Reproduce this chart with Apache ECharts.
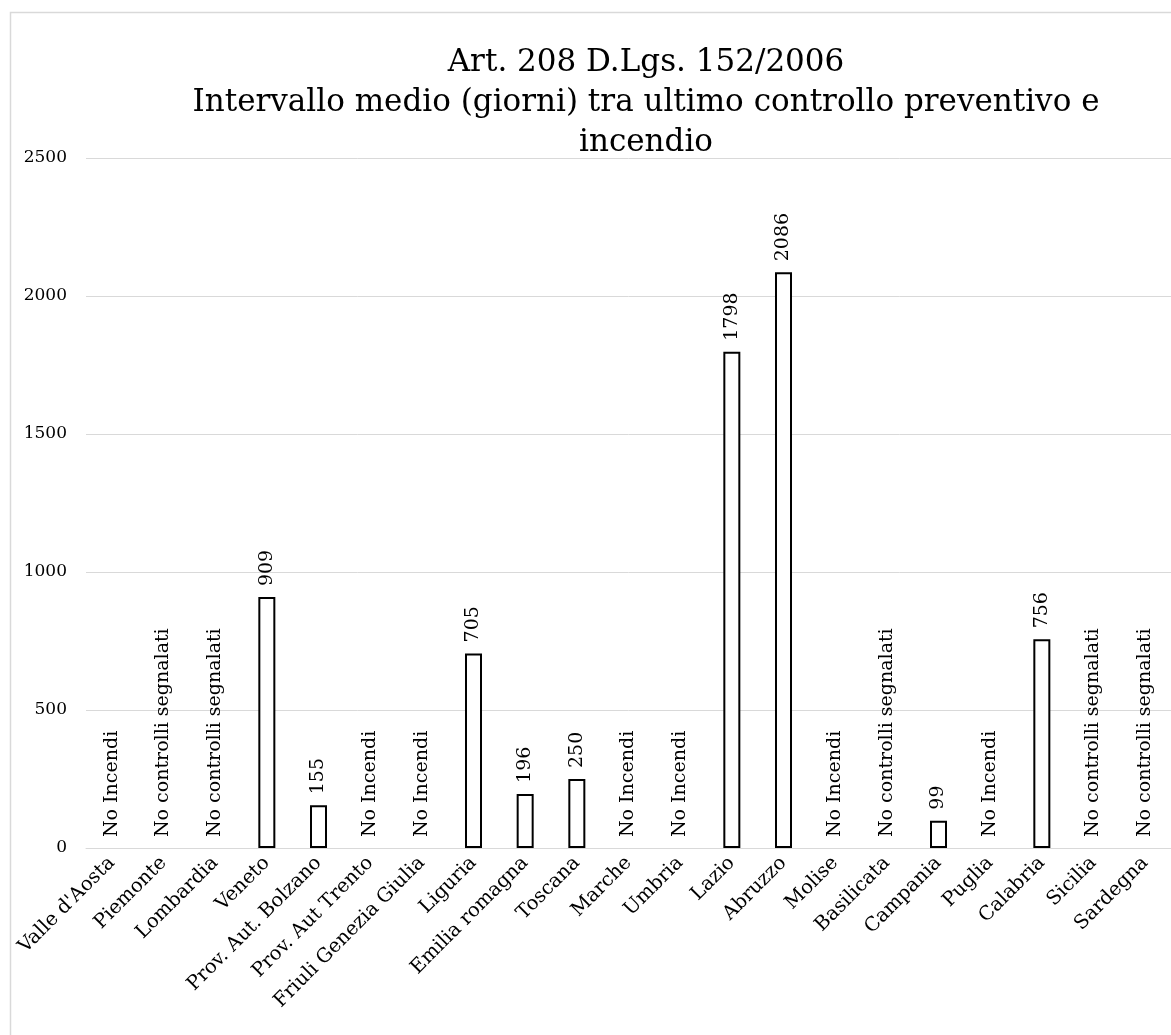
<!DOCTYPE html>
<html>
<head>
<meta charset="utf-8">
<script src="https://cdn.jsdelivr.net/npm/echarts@6/dist/echarts.min.js"></script>
<style>
html,body{margin:0;padding:0;background:#fff;}
#chart{width:1171px;height:1035px;}
</style>
</head>
<body>
<div id="chart"></div>
<script>
const titleText = "Art. 208 D.Lgs. 152/2006\nIntervallo medio (giorni) tra ultimo controllo preventivo e\nincendio";
const categories = ["Valle d'Aosta","Piemonte","Lombardia","Veneto","Prov. Aut. Bolzano","Prov. Aut Trento","Friuli Genezia Giulia","Liguria","Emilia romagna","Toscana","Marche","Umbria","Lazio","Abruzzo","Molise","Basilicata","Campania","Puglia","Calabria","Sicilia","Sardegna"];
const values = [null,null,null,909,155,null,null,705,196,250,null,null,1798,2086,null,null,99,null,756,null,null];
const notes = ["No Incendi","No controlli segnalati","No controlli segnalati",null,null,"No Incendi","No Incendi",null,null,null,"No Incendi","No Incendi",null,null,"No Incendi","No controlli segnalati",null,"No Incendi",null,"No controlli segnalati","No controlli segnalati"];
const yTicks = [0,500,1000,1500,2000,2500];

const FONT = "'DejaVu Serif', 'Liberation Serif', serif";

const seriesData = values.map((v, i) => {
  if (v === null) {
    return { value: 0, itemStyle: { borderWidth: 0, color: 'rgba(0,0,0,0)' }, label: { formatter: notes[i] } };
  }
  return { value: v };
});

const chart = echarts.init(document.getElementById('chart'), null, { renderer: 'canvas' });
chart.setOption({
  animation: false,
  backgroundColor: '#fff',
  graphic: [{
    type: 'rect', left: 8, top: 10, silent: true,
    shape: { width: 1300, height: 1200 },
    style: { fill: 'none', stroke: '#d9d9d9', lineWidth: 1.5 }
  }],
  title: {
    text: titleText,
    left: 641, top: 38, textAlign: 'center',
    textStyle: { fontFamily: FONT, fontSize: 31, fontWeight: 'normal', color: '#000', lineHeight: 40 }
  },
  grid: { left: 86, right: -7, top: 158, bottom: 187, containLabel: false },
  xAxis: {
    type: 'category',
    data: categories,
    axisLine: { show: true, lineStyle: { color: '#d9d9d9', width: 1 } },
    axisTick: { show: false },
    axisLabel: { interval: 0, rotate: 45, margin: 12, fontFamily: FONT, fontSize: 19.5, color: '#000' }
  },
  yAxis: {
    type: 'value',
    min: yTicks[0], max: yTicks[yTicks.length - 1], interval: 500,
    axisLine: { show: false },
    axisTick: { show: false },
    splitLine: { lineStyle: { color: '#d9d9d9', width: 1 } },
    axisLabel: { margin: 19, fontFamily: FONT, fontSize: 17, color: '#000', formatter: v => String(v) }
  },
  series: [{
    type: 'bar',
    data: seriesData,
    barWidth: 17,
    itemStyle: { color: '#ffffff', borderColor: '#000000', borderWidth: 2 },
    label: {
      show: true, position: 'top', rotate: 90, distance: 11,
      align: 'left', verticalAlign: 'middle',
      fontFamily: FONT, fontSize: 19, color: '#000'
    }
  }]
});
</script>
</body>
</html>
